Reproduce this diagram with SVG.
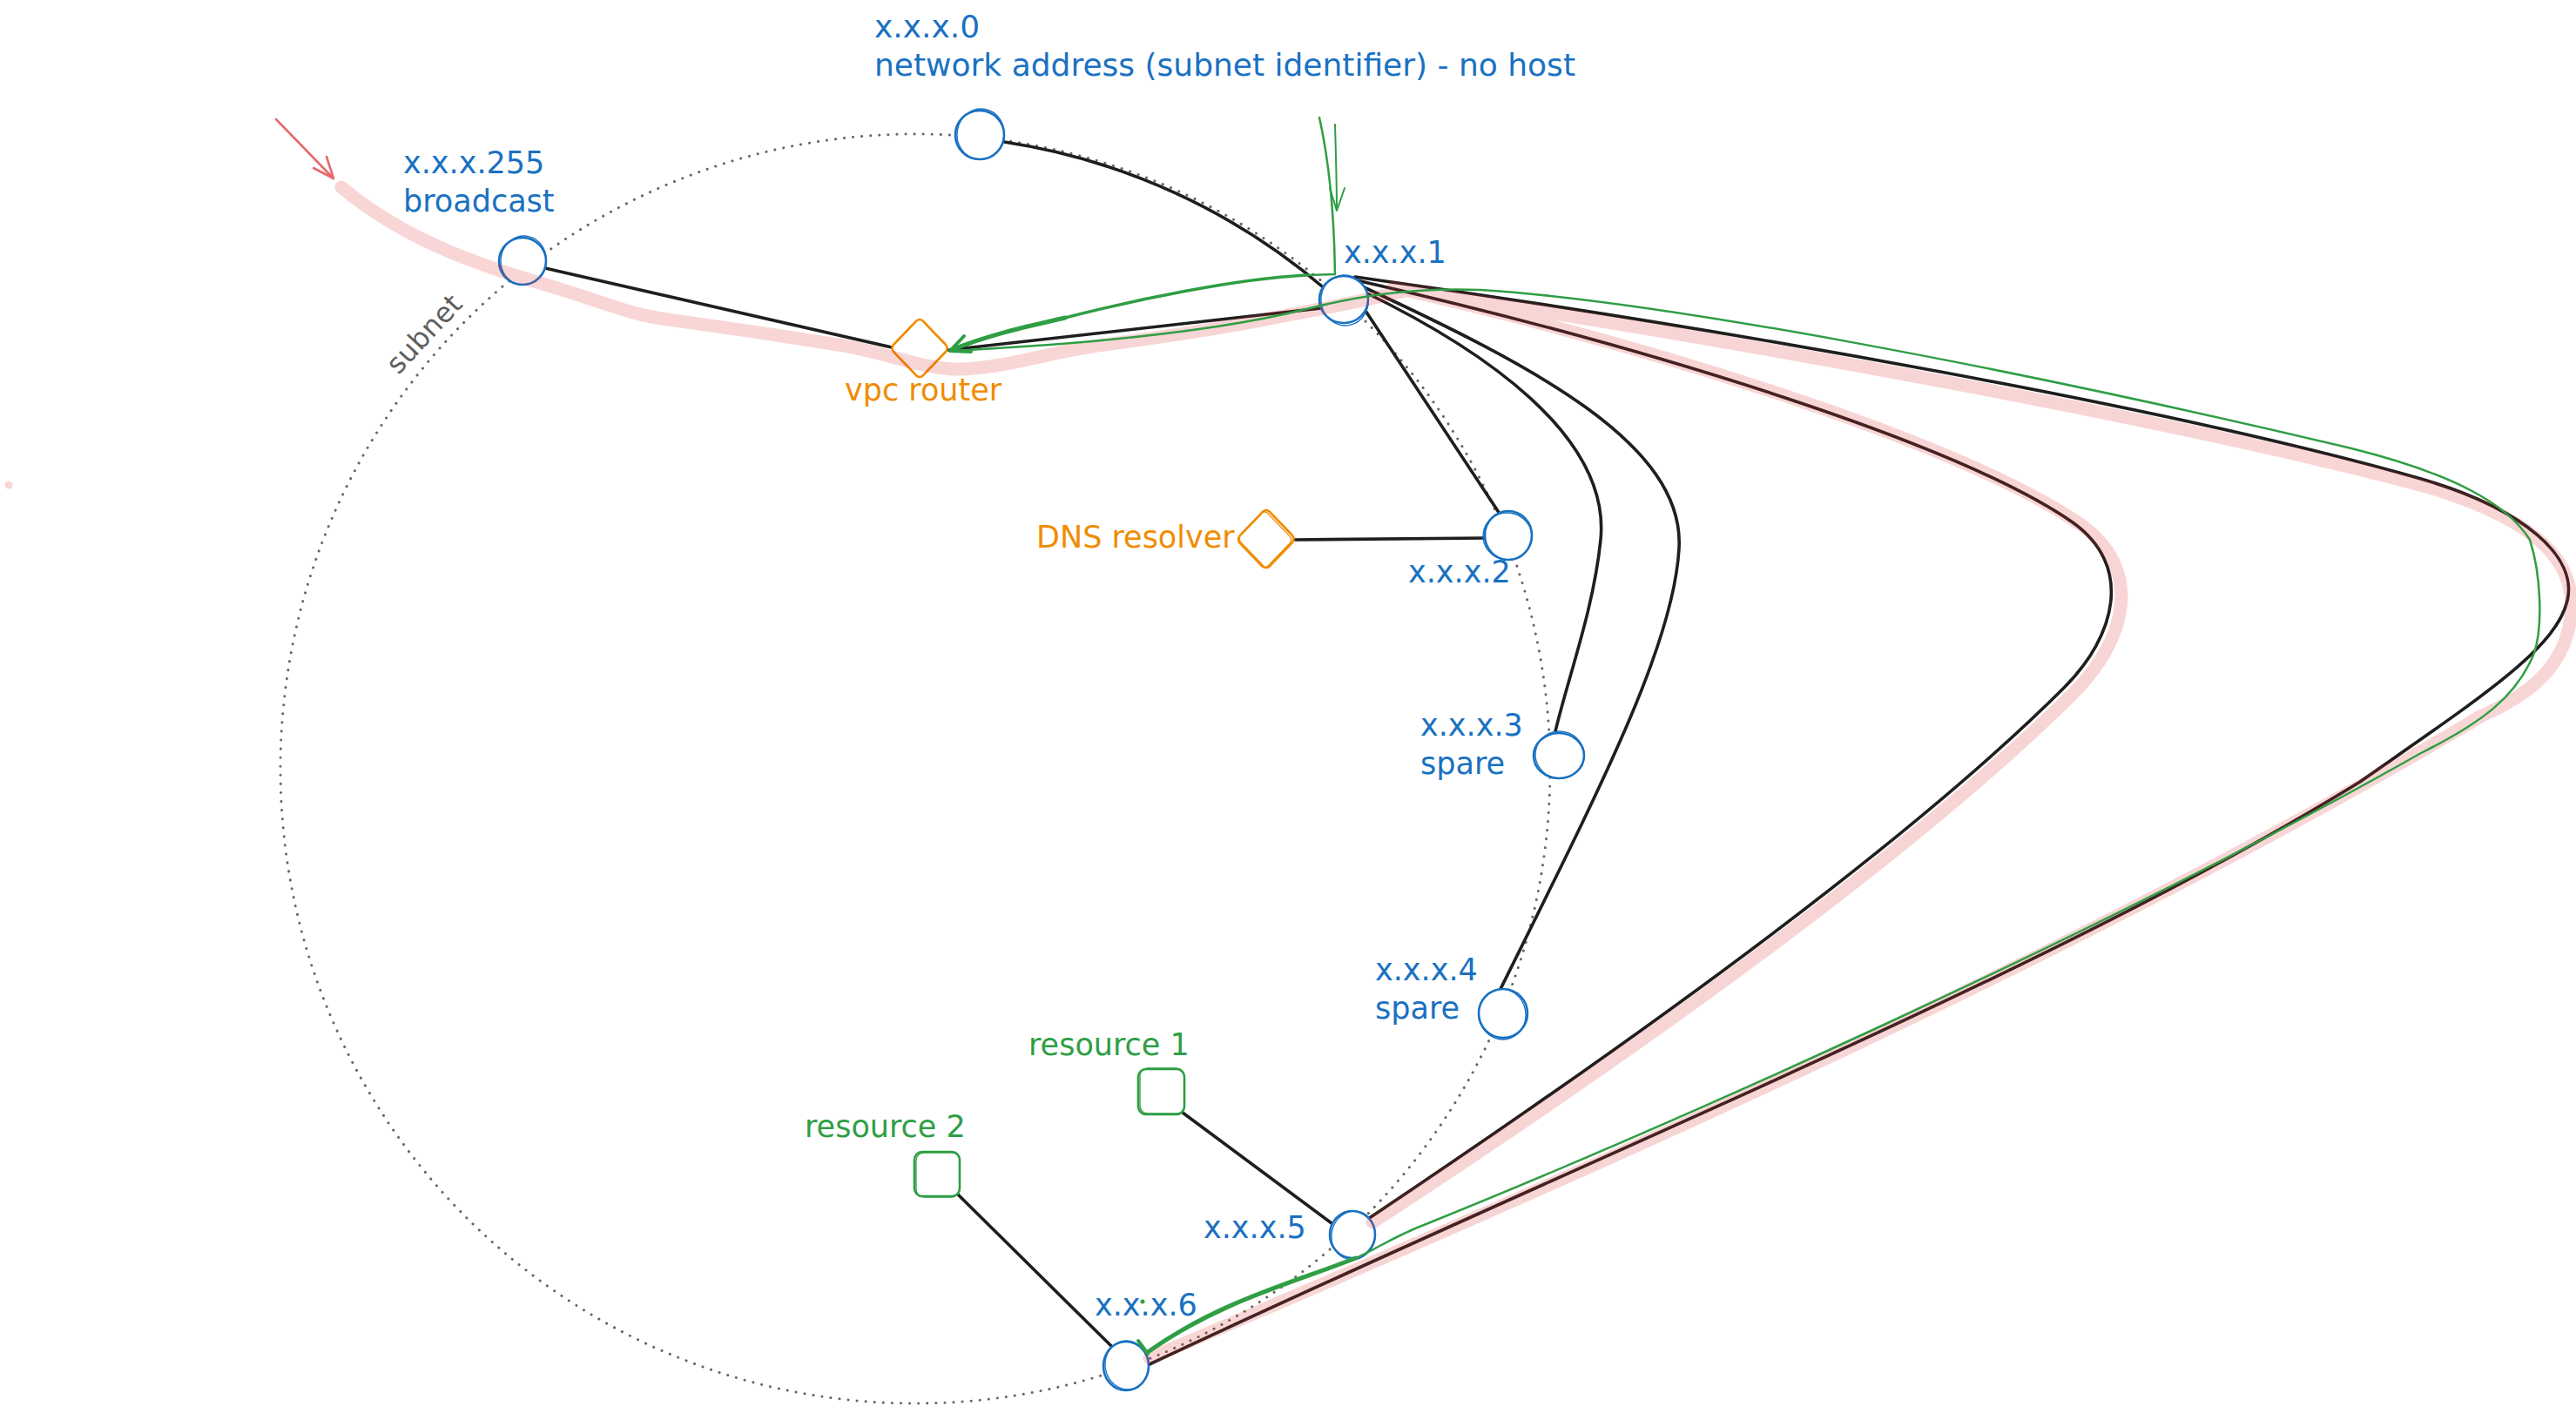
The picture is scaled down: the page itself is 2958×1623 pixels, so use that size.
<svg xmlns="http://www.w3.org/2000/svg" width="2958" height="1623" viewBox="0 0 2958 1623">
<style>
.bg{fill:#ffffff}
.subnet{fill:none;stroke:#666666;stroke-width:3;stroke-linecap:round;stroke-dasharray:0.1 10}
.conn{fill:none;stroke:#1e1e1e;stroke-width:3.6;stroke-linecap:round;stroke-linejoin:round}
.circ{fill:#ffffff;stroke:#1971c2;stroke-width:2.6}
.circ2{fill:none;stroke:#1971c2;stroke-width:1.4}
.dia{fill:#ffffff;stroke:#f08c00;stroke-width:2.6;stroke-linejoin:round}
.dia2{fill:none;stroke:#f08c00;stroke-width:1.3}
.sq{fill:#ffffff;stroke:#2f9e44;stroke-width:2.6}
.sq2{fill:none;stroke:#2f9e44;stroke-width:1.3}
.hl{fill:none;stroke:#e03131;stroke-width:15;stroke-linecap:round;stroke-linejoin:round}
.gr{fill:none;stroke:#2f9e44;stroke-width:2.5;stroke-linecap:round;stroke-linejoin:round}
.grt{fill:none;stroke:#2f9e44;stroke-width:5;stroke-linecap:round;stroke-linejoin:round}
.red{fill:none;stroke:#e86a6a;stroke-width:2.6;stroke-linecap:round;stroke-linejoin:round}
.t{font-family:"DejaVu Sans","Noto Sans",sans-serif;font-size:35px}
.tb{font-size:36px}
.blue{fill:#1971c2}
.orange{fill:#f08c00}
.green{fill:#2f9e44}
.gray{fill:#5f5f5f;font-size:32px}
</style>
<defs>
<path id="diamond" d="M0,-33 Q3,-33 6,-29 L30,-4 Q33,0 30,4 L6,29 Q3,33 0,33 Q-3,33 -6,29 L-30,4 Q-33,0 -30,-4 L-6,-29 Q-3,-33 0,-33 Z"/>
</defs>
<rect class="bg" x="0" y="0" width="2958" height="1623"/>

<g id="subnet-boundary">
<circle class="subnet" cx="1051" cy="883" r="729"/>
<text class="t gray" x="495" y="391" text-anchor="middle" transform="rotate(-47 495 391)">subnet</text>
</g>

<g id="connectors">
<path class="conn" d="M1153,163 A735,735 0 0 1 1523,333"/>
<path class="conn" d="M626,308 L1024,399"/>
<path class="conn" d="M1089,402 L1517,354"/>
<path class="conn" d="M1568,357 L1722,590"/>
<path class="conn" d="M1487,620 L1705,618"/>
<path class="conn" d="M1566,335 C1700,400 1850,500 1838,620 C1830,700 1800,780 1786,840"/>
<path class="conn" d="M1562,328 C1760,420 1935,510 1928,630 C1922,740 1840,900 1722,1138"/>
<path class="conn" d="M1558,322 C1900,400 2250,510 2380,600 C2450,650 2430,730 2370,790 C2200,960 1900,1180 1568,1402"/>
<path class="conn" d="M1556,318 C2000,380 2500,470 2780,550 C2900,585 2960,640 2948,690 C2935,745 2850,800 2710,898 C2350,1120 1800,1340 1318,1568"/>
<path class="conn" d="M1358,1278 L1529,1405"/>
<path class="conn" d="M1100,1372 L1278,1548"/>
</g>

<g id="node-x0">
<ellipse class="circ" cx="1125" cy="155" rx="28" ry="28"/>
<ellipse class="circ2" cx="1126" cy="154" rx="27" ry="29" transform="rotate(10 1126 154)"/>
<text class="t tb blue" x="1004" y="43">x.x.x.0</text>
<text class="t tb blue" x="1004" y="87">network address (subnet identifier) - no host</text>
</g>
<g id="node-x255">
<ellipse class="circ" cx="600" cy="300" rx="27" ry="27"/>
<ellipse class="circ2" cx="601" cy="299" rx="26" ry="28" transform="rotate(12 601 299)"/>
<text class="t blue" x="463" y="199">x.x.x.255</text>
<text class="t blue" x="463" y="243">broadcast</text>
</g>
<g id="node-router">
<use href="#diamond" class="dia" transform="translate(1056,400)"/>
<text class="t orange" x="970" y="460">vpc router</text>
</g>
<g id="node-x1">
<ellipse class="circ" cx="1543" cy="344" rx="28" ry="27"/>
<ellipse class="circ2" cx="1544" cy="345" rx="27" ry="29" transform="rotate(-12 1544 345)"/>
<text class="t blue" x="1543" y="302">x.x.x.1</text>
</g>
<g id="node-dns">
<use href="#diamond" class="dia" transform="translate(1454,619)"/>
<use href="#diamond" class="dia2" transform="translate(1452,620) scale(0.97)"/>
<text class="t orange" x="1190" y="629">DNS resolver</text>
</g>
<g id="node-x2">
<ellipse class="circ" cx="1732" cy="615" rx="27" ry="28"/>
<ellipse class="circ2" cx="1731" cy="616" rx="28" ry="27" transform="rotate(8 1731 616)"/>
<text class="t blue" x="1617" y="669">x.x.x.2</text>
</g>
<g id="node-x3">
<ellipse class="circ" cx="1790" cy="868" rx="29" ry="26"/>
<ellipse class="circ2" cx="1791" cy="867" rx="28" ry="27" transform="rotate(10 1791 867)"/>
<text class="t blue" x="1631" y="845">x.x.x.3</text>
<text class="t blue" x="1631" y="889">spare</text>
</g>
<g id="node-x4">
<ellipse class="circ" cx="1726" cy="1164" rx="28" ry="28"/>
<ellipse class="circ2" cx="1725" cy="1165" rx="27" ry="29" transform="rotate(-10 1725 1165)"/>
<text class="t blue" x="1579" y="1126">x.x.x.4</text>
<text class="t blue" x="1579" y="1170">spare</text>
</g>
<g id="node-x5">
<ellipse class="circ" cx="1553" cy="1418" rx="26" ry="27"/>
<ellipse class="circ2" cx="1554" cy="1419" rx="25" ry="28" transform="rotate(12 1554 1419)"/>
<text class="t blue" x="1382" y="1422">x.x.x.5</text>
</g>
<g id="node-x6">
<ellipse class="circ" cx="1293" cy="1569" rx="26" ry="28"/>
<ellipse class="circ2" cx="1294" cy="1568" rx="25" ry="28" transform="rotate(-8 1294 1568)"/>
<text class="t blue" x="1257" y="1511">x.x.x.6</text>
</g>
<g id="node-res1">
<rect class="sq" x="1307" y="1228" width="53" height="52" rx="9"/>
<rect class="sq2" x="1309" y="1227" width="51" height="52" rx="9"/>
<text class="t green" x="1181" y="1212">resource 1</text>
</g>
<g id="node-res2">
<rect class="sq" x="1050" y="1323" width="52" height="51" rx="9"/>
<rect class="sq2" x="1052" y="1324" width="50" height="51" rx="9"/>
<text class="t green" x="924" y="1306">resource 2</text>
</g>

<g id="highlight" opacity="0.2">
<path class="hl" d="M392,215 C460,272 540,302 630,328 C690,346 720,360 760,366 C840,377 900,386 969,397 C1030,408 1060,425 1107,424 C1160,421 1200,406 1260,397 C1330,388 1400,378 1473,363 C1520,354 1570,345 1613,334"/>
<path class="hl" d="M1600,330 C1930,405 2262,515 2390,603 C2462,655 2442,735 2380,797 C2210,966 1910,1186 1576,1404"/>
<path class="hl" d="M1613,333 C2000,392 2500,482 2790,560 C2920,600 2965,650 2950,720 C2940,770 2900,800 2850,822 C2400,1090 1850,1335 1320,1560"/>
<circle cx="10" cy="557" r="4.5" fill="#e03131" stroke="none"/>
</g>

<g id="route">
<path class="gr" d="M1515,135 C1525,180 1532,240 1533,315 L1500,316"/>
<path class="gr" style="stroke-width:3.5" d="M1500,316 C1420,320 1300,345 1223,365"/>
<path class="grt" d="M1223,365 C1180,375 1140,383 1092,402"/>
<path class="grt" style="stroke-width:4" d="M1107,386 L1091,403 L1115,404"/>
<path class="gr" d="M1533,143 C1534,180 1535,210 1535,242 M1527,216 L1535,242 L1544,216" style="stroke-width:2"/>
<path class="gr" d="M1092,403 C1250,395 1400,380 1500,355 C1560,340 1620,330 1700,333 C1900,345 2300,420 2700,515 C2820,545 2880,580 2905,620 C2918,660 2920,720 2910,750 C2890,800 2850,830 2780,865 C2400,1080 1900,1300 1640,1405 C1600,1420 1580,1435 1557,1445"/>
<path class="grt" d="M1557,1445 C1480,1475 1400,1495 1318,1553"/>
<path class="gr" style="stroke-width:4" d="M1307,1540 L1318,1555"/>
<circle cx="1312" cy="1495" r="2.5" fill="#2f9e44"/>
</g>

<g id="pointer">
<path class="red" d="M317,137 L383,205 M360,193 L383,205 L375,180"/>
</g>
</svg>
